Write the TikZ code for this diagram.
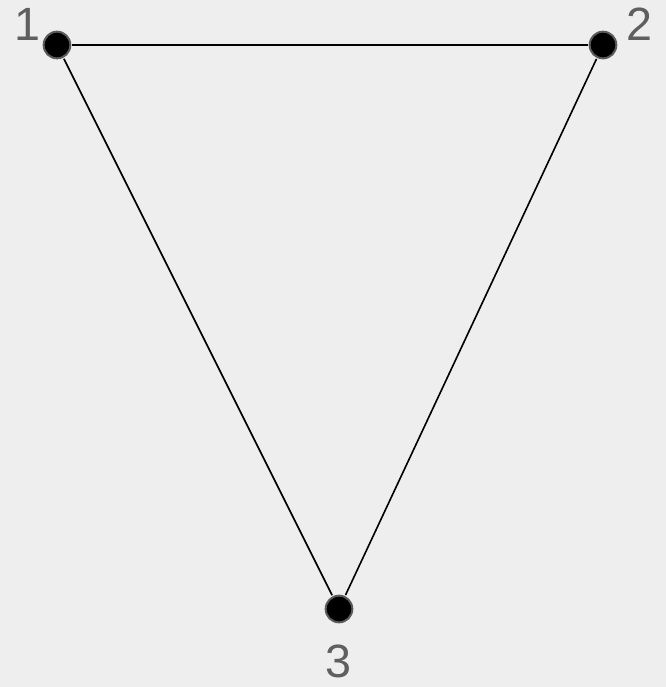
\documentclass[tikz,border=0pt]{standalone}
\usepackage{fontspec}
\setmainfont{Liberation Sans}
\usetikzlibrary{positioning}
\definecolor{bgc}{RGB}{238,238,238}
\definecolor{ring}{RGB}{90,90,90}
\definecolor{lblc}{RGB}{95,95,95}
\tikzset{
  vtx/.style={circle,draw=ring,fill=black,line width=1.5pt,minimum size=20pt,inner sep=0pt,outer sep=1.5pt},
  edge/.style={line width=1.2pt,black},
  lbl/.style={text=lblc,font=\fontsize{35}{41}\selectfont,inner sep=0pt},
}

\begin{document}
\begin{tikzpicture}[x=0.75pt,y=-0.75pt]
% background and size
\fill[bgc] (0,0) rectangle (666,687);
\useasboundingbox (0,0) rectangle (666,687);
% vertices
\node[vtx] (n1) at (57,45) {};
\node[vtx] (n2) at (603,45) {};
\node[vtx] (n3) at (339,609) {};
% edges
\draw[edge] (n1) -- (n2);
\draw[edge] (n1) -- (n3);
\draw[edge] (n2) -- (n3);
% labels
\node[lbl] (l1) at (27,24) {1};
\node[lbl] (l2) at (639,24) {2};
\node[lbl] (l3) at (338,661) {3};
\end{tikzpicture}
\end{document}
